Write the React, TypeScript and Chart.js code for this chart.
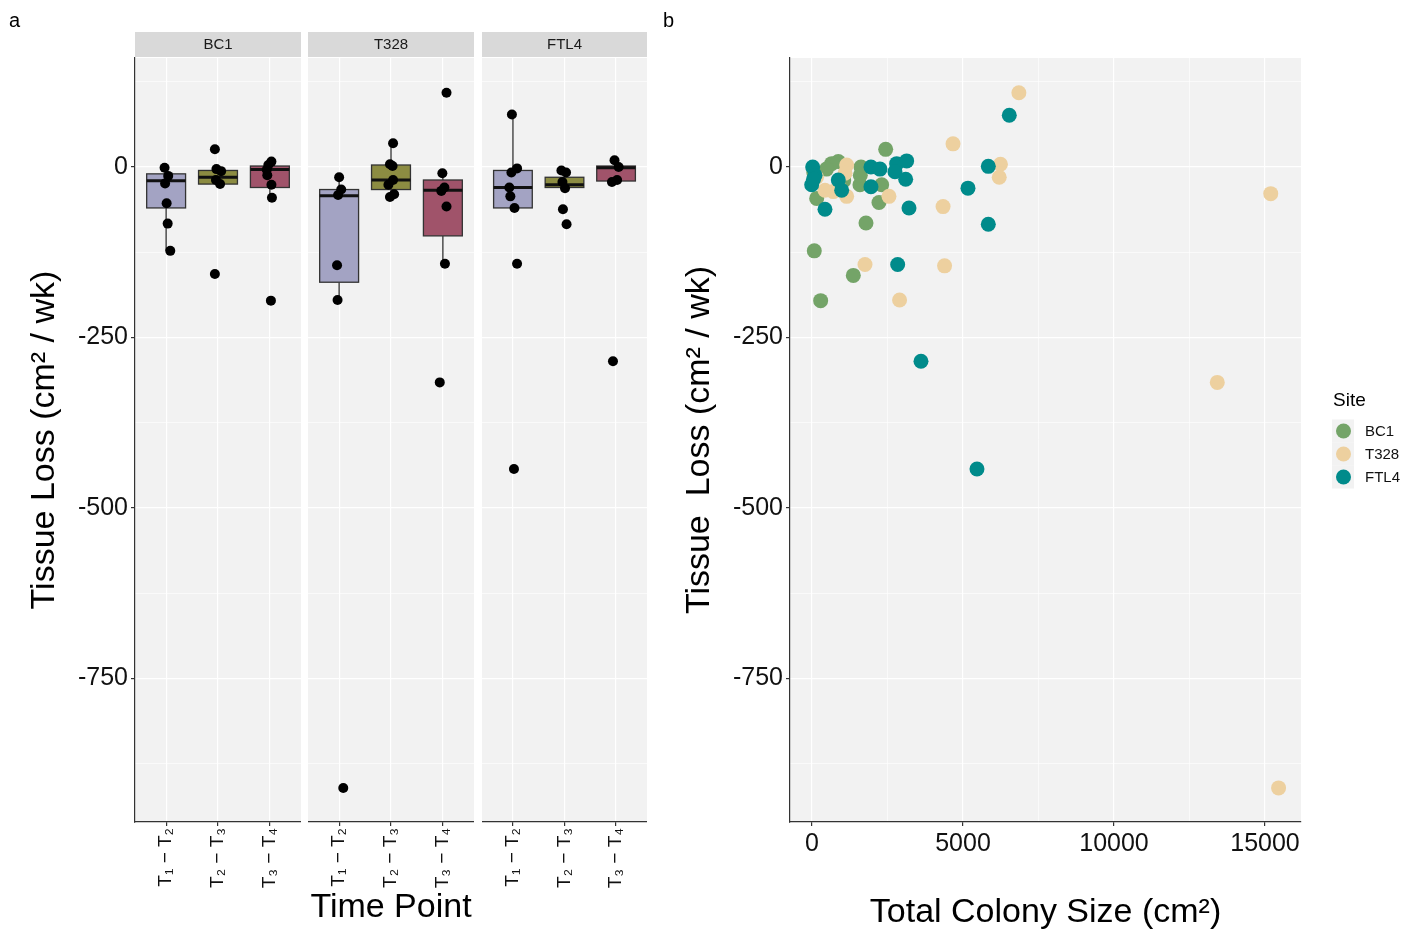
import { useEffect, useRef } from "react";
import { Chart, registerables } from "chart.js";

Chart.register(...registerables);

const FONT = "'Liberation Sans', Arial, Helvetica, sans-serif";
Chart.defaults.font.family = FONT;

// ---------- shared axes ----------
const Y_MIN = -961;
const Y_MAX = 160;
const Y_GRID = [125, 0, -125, -250, -375, -500, -625, -750, -875];
const Y_MAJOR = [0, -250, -500, -750];

// ---------- panel a ----------
const FACETS = ["BC1", "T328", "FTL4"];
const TIME_LABELS = ["T\u2081 \u2212 T\u2082", "T\u2082 \u2212 T\u2083", "T\u2083 \u2212 T\u2084"];
const TIME_POS = [1, 2, 3];
const BOX_COLORS = ["#A3A3C3", "#8C8C42", "#A0536A"];

// box stats per time point: [lower whisker, q1, median, q3, upper whisker]
const BC1_BOXES = [
  [-123, -60, -20, -10, -1],
  [-28, -25, -15, -5, -2],
  [-45, -30, -3.5, 1.5, 8],
];
const T328_BOXES = [
  [-195, -169, -42, -33, -15],
  [-44, -33, -19, 3, 35],
  [-142, -101, -34, -19, -9],
];
const FTL4_BOXES = [
  [-60, -60, -30, -5, 77],
  [-31, -30, -26, -15, -5],
  [-22, -20.5, -1, 1.5, 10],
];

// observed tissue loss points per time point
const BC1_POINTS = [
  [-1, -13, -24, -53, -83, -123],
  [26, -3, -6, -19, -25, -157],
  [8, 3, -4, -12, -26, -45, -196],
];
const BC1_JITTER = [
  [-0.03, 0.04, -0.02, 0.01, 0.03, 0.08],
  [-0.06, -0.03, 0.06, -0.04, 0.04, -0.06],
  [0.03, -0.03, -0.06, -0.05, 0.03, 0.04, 0.02],
];
const T328_POINTS = [
  [-15, -33, -41, -144, -195, -911],
  [35, 4, 1.5, -19, -26, -40, -44],
  [109, -9, -30, -35, -58, -142, -316],
];
const T328_JITTER = [
  [0, 0.04, -0.02, -0.04, -0.03, 0.08],
  [0.04, -0.02, 0.03, 0.04, -0.05, 0.06, -0.02],
  [0.07, -0.01, 0.03, -0.03, 0.07, 0.04, -0.06],
];
const FTL4_POINTS = [
  [77, -2, -8, -30, -43, -60, -142, -443],
  [-5, -8, -22, -31, -62, -84],
  [10, 0, -22, -19, -285],
];
const FTL4_JITTER = [
  [-0.02, 0.08, -0.03, -0.07, -0.05, 0.03, 0.08, 0.02],
  [-0.06, 0.03, -0.04, 0.01, -0.03, 0.04],
  [-0.03, 0.05, -0.08, 0.02, -0.06],
];

// ---------- panel b ----------
const SITE_COLORS = ["#74A468", "#EDD09F", "#008B8B"];
const X_MIN = -728;
const X_MAX = 16192;
const X_GRID = [0, 2500, 5000, 7500, 10000, 12500, 15000];
const X_MAJOR = [0, 5000, 10000, 15000];

const BC1_SIZE = [2440, 651, 871, 155, 1622, 1589, 2307, 2218, 1788, 76, 1368, 287, 480, 1600, 60, 1050];
const BC1_LOSS = [26, 5, 8, -46, 0, -26, -26, -52, -82, -123, -159, -196, -3, -12, -8, -20];
const T328_SIZE = [6850, 4670, 6240, 6200, 15190, 4340, 4390, 1755, 2900, 13420, 15450, 1148, 1093, 430, 706, 1148, 2549, 150, 900];
const T328_LOSS = [109, 34, 4, -15, -39, -58, -145, -143, -195, -316, -911, 3, -9, -34, -36, -43, -43, -15, -30];
const FTL4_SIZE = [23, -10, 100, 430, 871, 983, 1953, 2251, 1953, 2804, 3135, 2748, 3102, 3212, 5165, 6533, 5838, 5838, 2837, 3609, 5463, 50];
const FTL4_LOSS = [0, -26, -12, -62, -19, -34, 0, -3, -29, 5, 9, -7, -18, -60, -31, 76, 1, -84, -143, -285, -443, -18];

// ---------- styles ----------
const PANEL_BG = "#F2F2F2";
const STRIP_BG = "#D9D9D9";
const GRID = "#FFFFFF";
const AXIS = "#333333";
const TEXT = "#111111";
const BOX_HALF = 0.375;
const TICK_SIZE = 25;
const TITLE_SIZE = 34;

const bgPlugin = {
  id: "panelBg",
  beforeDraw(chart: any) {
    const { ctx, chartArea: a } = chart;
    ctx.save();
    ctx.fillStyle = PANEL_BG;
    ctx.fillRect(a.left, a.top, a.right - a.left, a.bottom - a.top);
    ctx.restore();
  },
};

const stripPlugin = {
  id: "strip",
  afterDraw(chart: any, _args: any, opts: any) {
    if (!opts || !opts.text) return;
    const { ctx, chartArea: a } = chart;
    ctx.save();
    ctx.fillStyle = STRIP_BG;
    ctx.fillRect(a.left, a.top - 26, a.right - a.left, 25);
    ctx.fillStyle = "#1a1a1a";
    ctx.font = `15px ${FONT}`;
    ctx.textAlign = "center";
    ctx.textBaseline = "middle";
    ctx.fillText(opts.text, (a.left + a.right) / 2, a.top - 13);
    ctx.restore();
  },
};

const boxPlugin = {
  id: "boxes",
  beforeDatasetsDraw(chart: any, _args: any, opts: any) {
    if (!opts || !opts.stats) return;
    const { ctx } = chart;
    const xs = chart.scales.x;
    const ys = chart.scales.y;
    opts.stats.forEach((s: number[], i: number) => {
      const c = TIME_POS[i];
      const xl = xs.getPixelForValue(c - BOX_HALF);
      const xr = xs.getPixelForValue(c + BOX_HALF);
      const xc = xs.getPixelForValue(c);
      const [lo, q1, med, q3, hi] = s.map((v) => ys.getPixelForValue(v));
      ctx.save();
      ctx.strokeStyle = AXIS;
      ctx.lineWidth = 1.3;
      ctx.beginPath();
      ctx.moveTo(xc, hi);
      ctx.lineTo(xc, q3);
      ctx.moveTo(xc, q1);
      ctx.lineTo(xc, lo);
      ctx.stroke();
      ctx.fillStyle = opts.colors[i];
      ctx.fillRect(xl, q3, xr - xl, q1 - q3);
      ctx.strokeRect(xl, q3, xr - xl, q1 - q3);
      ctx.strokeStyle = "#111111";
      ctx.lineWidth = 3;
      ctx.beginPath();
      ctx.moveTo(xl, med);
      ctx.lineTo(xr, med);
      ctx.stroke();
      ctx.restore();
    });
  },
};

const legendPlugin = {
  id: "siteLegend",
  afterDraw(chart: any) {
    const { ctx, chartArea: a } = chart;
    const x0 = a.right + 31;
    const mid = (a.top + a.bottom) / 2;
    ctx.save();
    ctx.fillStyle = "#000";
    ctx.font = `19px ${FONT}`;
    ctx.textAlign = "left";
    ctx.textBaseline = "middle";
    ctx.fillText("Site", x0 + 1, mid - 39);
    chart.data.datasets.forEach((ds: any, i: number) => {
      const yc = mid - 9 + i * 23;
      ctx.fillStyle = PANEL_BG;
      ctx.fillRect(x0, yc - 11.5, 22, 23);
      ctx.fillStyle = ds.backgroundColor;
      ctx.beginPath();
      ctx.arc(x0 + 11.5, yc, 7.5, 0, Math.PI * 2);
      ctx.fill();
      ctx.fillStyle = "#111";
      ctx.font = `15px ${FONT}`;
      ctx.fillText(ds.label, x0 + 33, yc + 1);
    });
    ctx.restore();
  },
};

const zeroPad = (s: any) => {
  s.paddingLeft = 0;
  s.paddingRight = 0;
  s.paddingTop = 0;
  s.paddingBottom = 0;
};

function yScale(show: boolean, width: number, title: string | null, titlePad: number) {
  return {
    type: "linear",
    position: "left",
    min: Y_MIN,
    max: Y_MAX,
    afterBuildTicks: (s: any) => {
      s.ticks = Y_GRID.map((v) => ({ value: v }));
    },
    afterFit: (s: any) => {
      s.width = width;
      zeroPad(s);
    },
    ticks: {
      display: show,
      autoSkip: false,
      padding: 3,
      color: TEXT,
      font: { size: TICK_SIZE },
      callback: (v: any) => (Y_MAJOR.includes(Number(v)) ? String(v) : ""),
    },
    grid: {
      color: GRID,
      lineWidth: (c: any) => (c.tick && Y_MAJOR.includes(c.tick.value) ? 1.2 : 0.6),
      drawTicks: show,
      tickLength: 4,
      tickWidth: 1.2,
      tickColor: (c: any) => (c.tick && Y_MAJOR.includes(c.tick.value) ? AXIS : "rgba(0,0,0,0)"),
    },
    border: { display: show, color: AXIS, width: 1.2 },
    title: title
      ? { display: true, text: title, color: "#000", font: { size: TITLE_SIZE }, padding: { top: titlePad, bottom: 0 } }
      : { display: false },
  };
}

function facetConfig(idx: number, boxes: number[][], points: number[][], jitter: number[][]): any {
  const first = idx === 0;
  const middle = idx === 1;
  return {
    type: "scatter",
    data: {
      datasets: points.map((vals, t) => ({
        label: TIME_LABELS[t],
        data: vals.map((v, k) => ({ x: TIME_POS[t] + jitter[t][k], y: v })),
        pointRadius: 5,
        pointHoverRadius: 5,
        backgroundColor: "#000",
        borderWidth: 0,
      })),
    },
    options: {
      animation: false,
      responsive: false,
      events: [],
      layout: { autoPadding: false, padding: { top: 58, left: 0, right: 0, bottom: 0 } },
      plugins: {
        legend: { display: false },
        tooltip: { enabled: false },
        strip: { text: FACETS[idx] },
        boxes: { stats: boxes, colors: BOX_COLORS },
      },
      scales: {
        x: {
          type: "linear",
          min: 0.4,
          max: 3.6,
          afterBuildTicks: (s: any) => {
            s.ticks = TIME_POS.map((v) => ({ value: v }));
          },
          afterFit: (s: any) => {
            s.height = 114;
            zeroPad(s);
          },
          ticks: {
            autoSkip: false,
            maxRotation: 90,
            minRotation: 90,
            padding: 2,
            color: TEXT,
            font: { size: 19 },
            callback: (v: any) => TIME_LABELS[TIME_POS.indexOf(Number(v))] ?? "",
          },
          grid: { color: GRID, lineWidth: 1.2, drawTicks: true, tickLength: 4, tickWidth: 1.2, tickColor: AXIS },
          border: { display: true, color: AXIS, width: 1.2 },
          title: middle
            ? { display: true, text: "Time Point", color: "#000", font: { size: TITLE_SIZE }, padding: { top: 0, bottom: 8 } }
            : { display: false },
        },
        y: yScale(first, first ? 135 : 0, first ? "Tissue Loss (cm\u00B2 / wk)" : null, 24),
      },
    },
    plugins: [bgPlugin, stripPlugin, boxPlugin],
  };
}

function scatterConfig(): any {
  const sets = [
    { label: "BC1", sx: BC1_SIZE, sy: BC1_LOSS, order: 3 },
    { label: "T328", sx: T328_SIZE, sy: T328_LOSS, order: 2 },
    { label: "FTL4", sx: FTL4_SIZE, sy: FTL4_LOSS, order: 1 },
  ];
  return {
    type: "scatter",
    data: {
      datasets: sets.map((s, i) => ({
        label: s.label,
        order: s.order,
        data: s.sx.map((x, k) => ({ x, y: s.sy[k] })),
        pointRadius: 7.5,
        pointHoverRadius: 7.5,
        backgroundColor: SITE_COLORS[i],
        borderWidth: 0,
      })),
    },
    options: {
      animation: false,
      responsive: false,
      events: [],
      layout: { autoPadding: false, padding: { top: 58, left: 0, right: 121, bottom: 0 } },
      plugins: { legend: { display: false }, tooltip: { enabled: false } },
      scales: {
        x: {
          type: "linear",
          min: X_MIN,
          max: X_MAX,
          afterBuildTicks: (s: any) => {
            s.ticks = X_GRID.map((v) => ({ value: v }));
          },
          afterFit: (s: any) => {
            s.height = 114;
            zeroPad(s);
          },
          ticks: {
            autoSkip: false,
            maxRotation: 0,
            minRotation: 0,
            padding: 3,
            color: TEXT,
            font: { size: TICK_SIZE },
            callback: (v: any) => (X_MAJOR.includes(Number(v)) ? String(v) : ""),
          },
          grid: {
            color: GRID,
            lineWidth: (c: any) => (c.tick && X_MAJOR.includes(c.tick.value) ? 1.2 : 0.6),
            drawTicks: true,
            tickLength: 4,
            tickWidth: 1.2,
            tickColor: (c: any) => (c.tick && X_MAJOR.includes(c.tick.value) ? AXIS : "rgba(0,0,0,0)"),
          },
          border: { display: true, color: AXIS, width: 1.2 },
          title: {
            display: true,
            text: "Total Colony Size (cm\u00B2)",
            color: "#000",
            font: { size: TITLE_SIZE },
            padding: { top: 0, bottom: 3 },
          },
        },
        y: yScale(true, 130, "Tissue  Loss (cm\u00B2 / wk)", 19),
      },
    },
    plugins: [bgPlugin, legendPlugin],
  };
}

function ChartCanvas({ config, left, width }: { config: () => any; left: number; width: number }) {
  const ref = useRef<HTMLCanvasElement | null>(null);
  useEffect(() => {
    if (!ref.current) return;
    const chart = new Chart(ref.current, config());
    return () => chart.destroy();
  }, []);
  return (
    <canvas
      ref={ref}
      width={width}
      height={936}
      style={{ position: "absolute", left, top: 0, width, height: 936 }}
    />
  );
}

export default function App() {
  const label = { position: "absolute" as const, top: 10, fontFamily: FONT, fontSize: 20, lineHeight: "20px", color: "#000" };
  return (
    <div style={{ position: "fixed", left: 0, top: 0, width: 1422, height: 936, background: "#fff", overflow: "hidden" }}>
      <ChartCanvas left={0} width={301} config={() => facetConfig(0, BC1_BOXES, BC1_POINTS, BC1_JITTER)} />
      <ChartCanvas left={308} width={166} config={() => facetConfig(1, T328_BOXES, T328_POINTS, T328_JITTER)} />
      <ChartCanvas left={482} width={165} config={() => facetConfig(2, FTL4_BOXES, FTL4_POINTS, FTL4_JITTER)} />
      <ChartCanvas left={660} width={762} config={scatterConfig} />
      <div style={{ ...label, left: 9 }}>a</div>
      <div style={{ ...label, left: 663 }}>b</div>
    </div>
  );
}
